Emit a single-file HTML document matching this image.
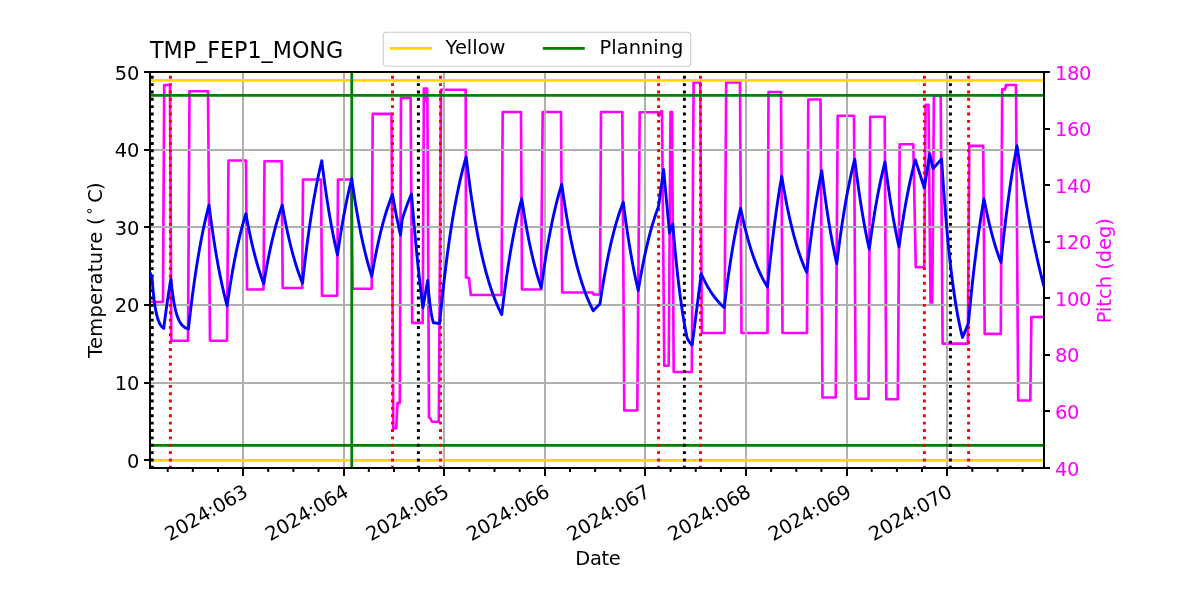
<!DOCTYPE html>
<html lang="en"><head><meta charset="utf-8"><title>TMP_FEP1_MONG</title>
<style>html,body{margin:0;padding:0;background:#fff;overflow:hidden}svg{display:block}text{font-family:"DejaVu Sans","Liberation Sans",sans-serif;font-size:19.44px;fill:#000}.m{fill:#ff00ff}</style></head><body>
<svg width="1200" height="600" viewBox="0 0 1200 600">
<rect x="0" y="0" width="1200" height="600" fill="#fff"/>
<defs><clipPath id="ax"><rect x="150" y="72" width="894" height="396"/></clipPath></defs>
<g clip-path="url(#ax)">
<path d="M150.00 302.00 L163.00 302.00 L164.20 85.00 L170.00 85.00 L171.30 340.75 L188.00 340.75 L189.50 91.25 L208.00 91.25 L210.00 340.75 L227.00 340.75 L228.50 160.50 L246.00 160.50 L247.00 289.50 L263.50 289.50 L264.50 161.25 L281.70 161.25 L282.70 288.00 L302.20 288.00 L303.00 179.50 L321.00 179.50 L322.00 295.75 L337.20 295.75 L338.00 179.50 L351.50 179.50 L352.50 288.75 L371.70 288.75 L372.70 113.90 L391.50 113.90 L393.30 428.30 L396.20 428.30 L397.50 402.80 L399.80 402.80 L401.00 97.90 L410.60 97.90 L412.20 322.90 L422.70 322.90 L423.90 88.50 L425.20 88.50 L425.50 101.00 L425.90 88.50 L427.00 88.50 L427.40 101.00 L429.00 417.50 L430.50 418.50 L432.00 421.70 L438.80 421.70 L441.00 89.70 L465.70 89.70 L466.00 277.50 L469.00 278.00 L470.80 295.00 L501.50 295.00 L502.70 112.00 L521.00 112.00 L522.00 289.50 L541.00 289.50 L542.70 112.00 L561.00 112.00 L562.20 292.50 L592.80 292.50 L593.50 294.50 L600.00 294.50 L601.00 112.00 L622.30 112.00 L624.30 410.50 L637.30 410.50 L639.70 112.20 L658.00 112.20 L659.00 116.00 L661.00 111.30 L662.00 111.30 L664.30 365.70 L668.70 365.70 L670.50 112.00 L672.00 112.00 L673.70 372.00 L691.80 372.00 L693.60 82.50 L700.20 82.50 L701.80 333.00 L724.50 333.00 L726.20 82.50 L740.00 82.50 L741.50 333.00 L767.50 333.00 L768.50 92.00 L781.00 92.00 L782.50 333.00 L807.00 333.00 L808.30 99.50 L820.50 99.50 L822.50 397.50 L835.70 397.50 L837.70 115.75 L854.00 115.75 L855.70 398.75 L868.50 398.75 L870.20 116.75 L884.70 116.75 L886.30 399.25 L897.80 399.25 L899.70 144.20 L913.30 144.20 L915.80 267.20 L924.20 267.20 L925.60 104.80 L928.50 104.80 L930.50 302.50 L932.30 302.50 L933.90 95.40 L940.70 95.40 L942.60 343.60 L967.80 343.60 L969.30 145.80 L983.20 145.80 L984.70 333.90 L1000.80 333.90 L1002.20 89.40 L1005.00 89.40 L1006.00 85.00 L1016.00 85.00 L1018.20 400.50 L1030.30 400.50 L1031.40 317.00 L1044.00 317.00" fill="none" stroke="#ff00ff" stroke-width="2.65" stroke-linejoin="round" stroke-linecap="butt"/>
</g>
<g stroke="#b0b0b0" stroke-width="2" clip-path="url(#ax)">
<line x1="243" y1="72" x2="243" y2="468"/>
<line x1="344" y1="72" x2="344" y2="468"/>
<line x1="444" y1="72" x2="444" y2="468"/>
<line x1="545" y1="72" x2="545" y2="468"/>
<line x1="645" y1="72" x2="645" y2="468"/>
<line x1="746" y1="72" x2="746" y2="468"/>
<line x1="847" y1="72" x2="847" y2="468"/>
<line x1="947" y1="72" x2="947" y2="468"/>
<line x1="150" y1="150" x2="1044" y2="150"/>
<line x1="150" y1="227" x2="1044" y2="227"/>
<line x1="150" y1="305" x2="1044" y2="305"/>
<line x1="150" y1="383" x2="1044" y2="383"/>
<line x1="150" y1="460" x2="1044" y2="460"/>
</g>
<g clip-path="url(#ax)" fill="none">
<line x1="150" y1="80.4" x2="1044" y2="80.4" stroke="#ffd700" stroke-width="2.78"/>
<line x1="150" y1="460.4" x2="1044" y2="460.4" stroke="#ffd700" stroke-width="2.78"/>
<line x1="150" y1="95.4" x2="1044" y2="95.4" stroke="#008000" stroke-width="2.78"/>
<line x1="150" y1="445.4" x2="1044" y2="445.4" stroke="#008000" stroke-width="2.78"/>
<line x1="351.75" y1="72" x2="351.75" y2="468" stroke="#008000" stroke-width="2.78"/>
<line x1="152.2" y1="468" x2="152.2" y2="72" stroke="#000" stroke-width="3" stroke-dasharray="2.9 4.46" stroke-dashoffset="0.75"/>
<line x1="418.4" y1="468" x2="418.4" y2="72" stroke="#000" stroke-width="3" stroke-dasharray="2.9 4.46" stroke-dashoffset="0.75"/>
<line x1="684.4" y1="468" x2="684.4" y2="72" stroke="#000" stroke-width="3" stroke-dasharray="2.9 4.46" stroke-dashoffset="0.75"/>
<line x1="950.4" y1="468" x2="950.4" y2="72" stroke="#000" stroke-width="3" stroke-dasharray="2.9 4.46" stroke-dashoffset="0.75"/>
<line x1="170.4" y1="468" x2="170.4" y2="72" stroke="#ff0000" stroke-width="3" stroke-dasharray="2.9 4.46" stroke-dashoffset="0.75"/>
<line x1="392.5" y1="468" x2="392.5" y2="72" stroke="#ff0000" stroke-width="3" stroke-dasharray="2.9 4.46" stroke-dashoffset="0.75"/>
<line x1="440.5" y1="468" x2="440.5" y2="72" stroke="#ff0000" stroke-width="3" stroke-dasharray="2.9 4.46" stroke-dashoffset="0.75"/>
<line x1="658.6" y1="468" x2="658.6" y2="72" stroke="#ff0000" stroke-width="3" stroke-dasharray="2.9 4.46" stroke-dashoffset="0.75"/>
<line x1="700.5" y1="468" x2="700.5" y2="72" stroke="#ff0000" stroke-width="3" stroke-dasharray="2.9 4.46" stroke-dashoffset="0.75"/>
<line x1="924.4" y1="468" x2="924.4" y2="72" stroke="#ff0000" stroke-width="3" stroke-dasharray="2.9 4.46" stroke-dashoffset="0.75"/>
<line x1="968.6" y1="468" x2="968.6" y2="72" stroke="#ff0000" stroke-width="3" stroke-dasharray="2.9 4.46" stroke-dashoffset="0.75"/>
</g>
<g stroke="#000" stroke-width="2">
<line x1="144" y1="72" x2="150" y2="72"/>
<line x1="144" y1="150" x2="150" y2="150"/>
<line x1="144" y1="227" x2="150" y2="227"/>
<line x1="144" y1="305" x2="150" y2="305"/>
<line x1="144" y1="383" x2="150" y2="383"/>
<line x1="144" y1="460" x2="150" y2="460"/>
<line x1="1044" y1="72.0" x2="1050" y2="72.0"/>
<line x1="1044" y1="129.0" x2="1050" y2="129.0"/>
<line x1="1044" y1="185.0" x2="1050" y2="185.0"/>
<line x1="1044" y1="242.0" x2="1050" y2="242.0"/>
<line x1="1044" y1="298.0" x2="1050" y2="298.0"/>
<line x1="1044" y1="355.0" x2="1050" y2="355.0"/>
<line x1="1044" y1="411.0" x2="1050" y2="411.0"/>
<line x1="1044" y1="468.0" x2="1050" y2="468.0"/>
<line x1="243" y1="468" x2="243" y2="476"/>
<line x1="344" y1="468" x2="344" y2="476"/>
<line x1="444" y1="468" x2="444" y2="476"/>
<line x1="545" y1="468" x2="545" y2="476"/>
<line x1="645" y1="468" x2="645" y2="476"/>
<line x1="746" y1="468" x2="746" y2="476"/>
<line x1="847" y1="468" x2="847" y2="476"/>
<line x1="947" y1="468" x2="947" y2="476"/>
<line x1="167.7" y1="468" x2="167.7" y2="471.9"/>
<line x1="192.8" y1="468" x2="192.8" y2="471.9"/>
<line x1="218.0" y1="468" x2="218.0" y2="471.9"/>
<line x1="268.2" y1="468" x2="268.2" y2="471.9"/>
<line x1="293.4" y1="468" x2="293.4" y2="471.9"/>
<line x1="318.5" y1="468" x2="318.5" y2="471.9"/>
<line x1="368.8" y1="468" x2="368.8" y2="471.9"/>
<line x1="394.0" y1="468" x2="394.0" y2="471.9"/>
<line x1="419.1" y1="468" x2="419.1" y2="471.9"/>
<line x1="469.4" y1="468" x2="469.4" y2="471.9"/>
<line x1="494.5" y1="468" x2="494.5" y2="471.9"/>
<line x1="519.7" y1="468" x2="519.7" y2="471.9"/>
<line x1="570.0" y1="468" x2="570.0" y2="471.9"/>
<line x1="595.1" y1="468" x2="595.1" y2="471.9"/>
<line x1="620.3" y1="468" x2="620.3" y2="471.9"/>
<line x1="670.6" y1="468" x2="670.6" y2="471.9"/>
<line x1="695.7" y1="468" x2="695.7" y2="471.9"/>
<line x1="720.9" y1="468" x2="720.9" y2="471.9"/>
<line x1="771.1" y1="468" x2="771.1" y2="471.9"/>
<line x1="796.3" y1="468" x2="796.3" y2="471.9"/>
<line x1="821.4" y1="468" x2="821.4" y2="471.9"/>
<line x1="871.7" y1="468" x2="871.7" y2="471.9"/>
<line x1="896.9" y1="468" x2="896.9" y2="471.9"/>
<line x1="922.0" y1="468" x2="922.0" y2="471.9"/>
<line x1="972.3" y1="468" x2="972.3" y2="471.9"/>
<line x1="997.5" y1="468" x2="997.5" y2="471.9"/>
<line x1="1022.6" y1="468" x2="1022.6" y2="471.9"/>
</g>
<rect x="150" y="72" width="894" height="396" fill="none" stroke="#000" stroke-width="2"/>
<path clip-path="url(#ax)" fill="none" d="M150.00 272.40 L151.00 275.20 L152.00 278.00 L153.06 290.46 L154.13 300.01 L155.19 307.33 L156.25 312.94 L157.32 317.24 L158.38 320.54 L159.45 323.07 L160.51 325.00 L161.57 326.49 L162.64 327.63 L163.70 328.50 L164.73 320.45 L165.76 312.75 L166.79 305.37 L167.81 298.31 L168.84 291.56 L169.87 285.09 L170.90 278.90 L171.93 288.51 L172.96 296.34 L173.99 302.70 L175.02 307.89 L176.05 312.11 L177.08 315.54 L178.11 318.33 L179.14 320.61 L180.16 322.46 L181.19 323.97 L182.22 325.19 L183.25 326.19 L184.28 327.01 L185.31 327.67 L186.34 328.21 L187.37 328.64 L188.40 329.00 L189.43 319.89 L190.46 311.17 L191.49 302.83 L192.52 294.84 L193.55 287.20 L194.58 279.88 L195.61 272.88 L196.64 266.18 L197.67 259.77 L198.70 253.63 L199.73 247.75 L200.76 242.13 L201.79 236.74 L202.82 231.59 L203.85 226.66 L204.88 221.94 L205.91 217.42 L206.94 213.10 L207.97 208.96 L209.00 205.00 L210.01 212.85 L211.01 220.38 L212.02 227.59 L213.02 234.49 L214.03 241.11 L215.03 247.45 L216.04 253.53 L217.04 259.35 L218.05 264.93 L219.06 270.27 L220.06 275.39 L221.07 280.30 L222.07 284.99 L223.08 289.50 L224.08 293.81 L225.09 297.95 L226.09 301.91 L227.10 305.70 L228.14 298.44 L229.19 291.50 L230.23 284.86 L231.28 278.50 L232.32 272.43 L233.37 266.62 L234.41 261.06 L235.46 255.74 L236.50 250.65 L237.54 245.78 L238.59 241.13 L239.63 236.68 L240.68 232.42 L241.72 228.35 L242.77 224.45 L243.81 220.72 L244.86 217.16 L245.90 213.75 L246.95 219.50 L248.00 225.00 L249.05 230.25 L250.10 235.28 L251.15 240.09 L252.20 244.68 L253.25 249.08 L254.30 253.28 L255.35 257.31 L256.40 261.15 L257.45 264.83 L258.50 268.34 L259.55 271.71 L260.60 274.92 L261.65 278.00 L262.70 280.94 L263.75 283.75 L264.78 277.57 L265.81 271.65 L266.83 265.98 L267.86 260.56 L268.89 255.36 L269.92 250.39 L270.94 245.64 L271.97 241.08 L273.00 236.72 L274.03 232.55 L275.06 228.56 L276.08 224.74 L277.11 221.08 L278.14 217.57 L279.17 214.22 L280.19 211.01 L281.22 207.94 L282.25 205.00 L283.26 210.71 L284.27 216.19 L285.29 221.43 L286.30 226.45 L287.31 231.26 L288.32 235.86 L289.34 240.28 L290.35 244.50 L291.36 248.55 L292.38 252.43 L293.39 256.14 L294.40 259.70 L295.41 263.10 L296.43 266.37 L297.44 269.49 L298.45 272.49 L299.46 275.35 L300.48 278.10 L301.49 280.73 L302.50 283.25 L303.51 274.01 L304.53 265.15 L305.54 256.67 L306.55 248.55 L307.57 240.77 L308.58 233.32 L309.59 226.18 L310.61 219.35 L311.62 212.80 L312.63 206.53 L313.64 200.52 L314.66 194.77 L315.67 189.26 L316.68 183.98 L317.70 178.93 L318.71 174.08 L319.72 169.45 L320.74 165.00 L321.75 160.75 L322.80 169.18 L323.85 177.25 L324.90 184.96 L325.95 192.33 L327.00 199.39 L328.05 206.13 L329.10 212.58 L330.15 218.75 L331.20 224.65 L332.25 230.29 L333.30 235.68 L334.35 240.84 L335.40 245.77 L336.45 250.49 L337.50 255.00 L338.52 247.89 L339.54 241.08 L340.55 234.57 L341.57 228.32 L342.59 222.35 L343.61 216.62 L344.62 211.14 L345.64 205.89 L346.66 200.86 L347.68 196.05 L348.70 191.44 L349.71 187.03 L350.73 182.80 L351.75 178.75 L352.75 185.84 L353.75 192.63 L354.75 199.14 L355.75 205.38 L356.75 211.36 L357.75 217.09 L358.75 222.58 L359.75 227.84 L360.75 232.89 L361.75 237.72 L362.75 242.35 L363.75 246.79 L364.75 251.04 L365.75 255.12 L366.75 259.03 L367.75 262.77 L368.75 266.36 L369.75 269.80 L370.75 273.09 L371.75 276.25 L372.79 270.21 L373.82 264.43 L374.86 258.90 L375.90 253.62 L376.94 248.55 L377.98 243.71 L379.01 239.08 L380.05 234.64 L381.09 230.40 L382.12 226.34 L383.16 222.46 L384.20 218.74 L385.24 215.19 L386.27 211.79 L387.31 208.53 L388.35 205.42 L389.39 202.44 L390.43 199.59 L391.46 196.86 L392.50 194.25 L393.50 200.13 L394.50 205.77 L395.50 211.18 L396.50 216.35 L397.50 221.32 L398.50 226.07 L399.50 230.63 L400.50 235.00 L401.35 227.25 L402.20 219.50 L403.23 216.14 L404.27 212.93 L405.30 209.86 L406.33 206.92 L407.37 204.10 L408.40 201.41 L409.43 198.83 L410.47 196.36 L411.50 194.00 L412.54 206.76 L413.57 218.97 L414.61 230.66 L415.65 241.84 L416.68 252.54 L417.72 262.77 L418.75 272.57 L419.79 281.94 L420.83 290.91 L421.86 299.49 L422.90 307.70 L424.10 300.87 L425.30 294.05 L426.50 287.22 L427.70 280.40 L428.82 294.11 L429.94 304.47 L431.06 312.31 L432.18 318.23 L433.30 322.70 L434.35 322.85 L435.40 323.00 L436.45 323.15 L437.50 323.30 L438.55 323.45 L439.60 323.60 L440.62 313.12 L441.65 303.08 L442.67 293.48 L443.69 284.28 L444.72 275.47 L445.74 267.04 L446.76 258.97 L447.78 251.25 L448.81 243.85 L449.83 236.76 L450.85 229.98 L451.88 223.49 L452.90 217.27 L453.92 211.32 L454.95 205.62 L455.97 200.17 L456.99 194.95 L458.02 189.95 L459.04 185.16 L460.06 180.58 L461.08 176.19 L462.11 171.99 L463.13 167.97 L464.15 164.12 L465.18 160.43 L466.20 156.90 L467.22 165.45 L468.23 173.64 L469.25 181.48 L470.26 188.99 L471.28 196.18 L472.29 203.07 L473.31 209.67 L474.33 215.99 L475.34 222.04 L476.36 227.83 L477.37 233.38 L478.39 238.70 L479.40 243.79 L480.42 248.66 L481.44 253.33 L482.45 257.80 L483.47 262.08 L484.48 266.19 L485.50 270.11 L486.51 273.87 L487.53 277.48 L488.55 280.93 L489.56 284.23 L490.58 287.39 L491.59 290.42 L492.61 293.33 L493.62 296.11 L494.64 298.77 L495.66 301.32 L496.67 303.76 L497.69 306.10 L498.70 308.34 L499.72 310.48 L500.73 312.53 L501.75 314.50 L502.75 306.08 L503.75 298.02 L504.75 290.29 L505.75 282.89 L506.75 275.79 L507.75 268.98 L508.75 262.47 L509.75 256.22 L510.75 250.23 L511.75 244.49 L512.75 239.00 L513.75 233.73 L514.75 228.68 L515.75 223.84 L516.75 219.20 L517.75 214.75 L518.75 210.49 L519.75 206.41 L520.75 202.50 L521.75 198.75 L522.78 205.51 L523.80 211.99 L524.83 218.19 L525.86 224.12 L526.88 229.80 L527.91 235.24 L528.93 240.44 L529.96 245.42 L530.99 250.19 L532.01 254.76 L533.04 259.13 L534.07 263.31 L535.09 267.32 L536.12 271.15 L537.14 274.82 L538.17 278.34 L539.20 281.70 L540.22 284.92 L541.25 288.00 L542.27 280.39 L543.30 273.11 L544.33 266.14 L545.35 259.46 L546.38 253.07 L547.40 246.95 L548.42 241.10 L549.45 235.49 L550.48 230.13 L551.50 224.99 L552.52 220.07 L553.55 215.36 L554.58 210.85 L555.60 206.54 L556.62 202.41 L557.65 198.45 L558.67 194.67 L559.70 191.04 L560.73 187.57 L561.75 184.25 L562.77 191.50 L563.78 198.45 L564.80 205.10 L565.81 211.46 L566.83 217.56 L567.85 223.41 L568.86 229.00 L569.88 234.36 L570.90 239.49 L571.91 244.40 L572.93 249.11 L573.94 253.61 L574.96 257.93 L575.98 262.06 L576.99 266.02 L578.01 269.81 L579.02 273.44 L580.04 276.92 L581.06 280.25 L582.07 283.44 L583.09 286.49 L584.10 289.41 L585.12 292.22 L586.14 294.90 L587.15 297.47 L588.17 299.93 L589.19 302.28 L590.20 304.54 L591.22 306.70 L592.23 308.77 L593.25 310.75 L594.38 309.58 L595.50 308.42 L596.62 307.25 L597.75 306.08 L598.88 304.92 L600.00 303.75 L601.01 296.93 L602.02 290.40 L603.03 284.14 L604.04 278.15 L605.05 272.40 L606.07 266.90 L607.08 261.64 L608.09 256.59 L609.10 251.76 L610.11 247.12 L611.12 242.69 L612.13 238.44 L613.14 234.37 L614.15 230.47 L615.16 226.74 L616.17 223.16 L617.18 219.73 L618.20 216.45 L619.21 213.31 L620.22 210.30 L621.23 207.41 L622.24 204.65 L623.25 202.00 L624.25 209.81 L625.25 217.30 L626.25 224.48 L627.25 231.36 L628.25 237.95 L629.25 244.27 L630.25 250.32 L631.25 256.12 L632.25 261.68 L633.25 267.01 L634.25 272.12 L635.25 277.01 L636.25 281.70 L637.25 286.19 L638.25 290.50 L639.26 284.37 L640.27 278.51 L641.29 272.89 L642.30 267.50 L643.31 262.35 L644.33 257.41 L645.34 252.68 L646.35 248.15 L647.36 243.81 L648.38 239.65 L649.39 235.67 L650.40 231.85 L651.41 228.20 L652.42 224.70 L653.44 221.35 L654.45 218.14 L655.46 215.07 L656.48 212.12 L657.49 209.30 L658.50 206.60 L659.52 199.18 L660.54 191.76 L661.56 184.34 L662.58 176.92 L663.60 169.50 L664.78 182.20 L665.96 194.90 L667.14 207.60 L668.32 220.30 L669.50 233.00 L670.60 229.92 L671.70 226.83 L672.80 223.75 L673.81 235.90 L674.83 247.26 L675.84 257.88 L676.86 267.80 L677.87 277.07 L678.89 285.74 L679.90 293.84 L680.91 301.41 L681.93 308.49 L682.94 315.10 L683.96 321.28 L684.97 327.06 L685.99 332.45 L687.00 337.50 L688.04 339.80 L689.08 341.57 L690.12 342.93 L691.16 343.99 L692.20 344.80 L693.21 336.90 L694.21 329.01 L695.22 321.11 L696.22 313.21 L697.23 305.32 L698.23 297.43 L699.24 289.53 L700.24 281.64 L701.25 273.75 L702.25 276.00 L703.25 278.16 L704.25 280.23 L705.25 282.21 L706.25 284.11 L707.25 285.93 L708.25 287.68 L709.25 289.35 L710.25 290.95 L711.25 292.49 L712.25 293.96 L713.25 295.37 L714.25 296.72 L715.25 298.02 L716.25 299.26 L717.25 300.45 L718.25 301.59 L719.25 302.68 L720.25 303.73 L721.25 304.73 L722.25 305.70 L723.25 306.62 L724.25 307.50 L725.27 299.06 L726.29 290.98 L727.32 283.25 L728.34 275.84 L729.36 268.75 L730.38 261.96 L731.40 255.46 L732.42 249.24 L733.45 243.28 L734.47 237.58 L735.49 232.12 L736.51 226.89 L737.53 221.88 L738.56 217.08 L739.58 212.49 L740.60 208.10 L741.63 213.09 L742.67 217.86 L743.70 222.42 L744.74 226.79 L745.77 230.97 L746.81 234.97 L747.84 238.80 L748.88 242.46 L749.91 245.97 L750.95 249.32 L751.98 252.53 L753.02 255.60 L754.05 258.54 L755.08 261.35 L756.12 264.05 L757.15 266.62 L758.19 269.09 L759.22 271.44 L760.26 273.70 L761.29 275.86 L762.33 277.93 L763.36 279.91 L764.40 281.80 L765.43 283.61 L766.47 285.34 L767.50 287.00 L768.52 276.68 L769.54 266.79 L770.55 257.32 L771.57 248.25 L772.59 239.57 L773.61 231.26 L774.62 223.29 L775.64 215.67 L776.66 208.37 L777.68 201.38 L778.70 194.68 L779.71 188.27 L780.73 182.13 L781.75 176.25 L782.75 182.37 L783.75 188.24 L784.75 193.86 L785.75 199.25 L786.75 204.42 L787.75 209.37 L788.75 214.11 L789.75 218.66 L790.75 223.01 L791.75 227.19 L792.75 231.19 L793.75 235.02 L794.75 238.70 L795.75 242.22 L796.75 245.59 L797.75 248.83 L798.75 251.93 L799.75 254.90 L800.75 257.75 L801.75 260.47 L802.75 263.09 L803.75 265.59 L804.75 267.99 L805.75 270.29 L806.75 272.50 L807.75 263.52 L808.75 254.91 L809.75 246.65 L810.75 238.75 L811.75 231.17 L812.75 223.91 L813.75 216.95 L814.75 210.28 L815.75 203.88 L816.75 197.76 L817.75 191.89 L818.75 186.26 L819.75 180.87 L820.75 175.70 L821.75 170.75 L822.75 178.96 L823.75 186.83 L824.75 194.37 L825.75 201.60 L826.75 208.53 L827.75 215.17 L828.75 221.53 L829.75 227.62 L830.75 233.47 L831.75 239.07 L832.75 244.43 L833.75 249.57 L834.75 254.50 L835.75 259.22 L836.75 263.75 L837.75 255.61 L838.75 247.82 L839.75 240.35 L840.75 233.18 L841.75 226.32 L842.75 219.75 L843.75 213.44 L844.75 207.40 L845.75 201.62 L846.75 196.07 L847.75 190.75 L848.75 185.66 L849.75 180.78 L850.75 176.10 L851.75 171.61 L852.75 167.31 L853.75 163.20 L854.75 159.25 L855.79 167.68 L856.82 175.74 L857.86 183.46 L858.89 190.84 L859.93 197.91 L860.96 204.67 L862.00 211.14 L863.04 217.33 L864.07 223.25 L865.11 228.92 L866.14 234.34 L867.18 239.53 L868.21 244.50 L869.25 249.25 L870.30 241.44 L871.35 233.98 L872.40 226.84 L873.45 220.01 L874.50 213.48 L875.55 207.24 L876.60 201.27 L877.65 195.56 L878.70 190.10 L879.75 184.88 L880.80 179.88 L881.85 175.11 L882.90 170.54 L883.95 166.18 L885.00 162.00 L886.00 169.89 L887.00 177.45 L888.00 184.70 L889.00 191.64 L890.00 198.29 L891.00 204.67 L892.00 210.78 L893.00 216.64 L894.00 222.25 L895.00 227.63 L896.00 232.79 L897.00 237.73 L898.00 242.46 L899.00 247.00 L900.02 239.60 L901.04 232.51 L902.06 225.72 L903.08 219.22 L904.09 212.99 L905.11 207.03 L906.13 201.32 L907.15 195.86 L908.17 190.62 L909.19 185.61 L910.21 180.81 L911.22 176.21 L912.24 171.81 L913.26 167.60 L914.28 163.56 L915.30 159.70 L916.30 162.85 L917.30 165.99 L918.30 169.14 L919.30 172.28 L920.30 175.43 L921.30 178.57 L922.30 181.71 L923.30 184.86 L924.30 188.00 L925.38 181.15 L926.46 174.30 L927.54 167.45 L928.62 160.60 L929.70 153.75 L930.80 158.75 L931.90 163.75 L933.00 168.75 L934.08 167.52 L935.15 166.29 L936.23 165.06 L937.30 163.82 L938.38 162.59 L939.45 161.36 L940.52 160.13 L941.60 158.90 L942.64 174.89 L943.69 189.80 L944.74 203.71 L945.78 216.68 L946.83 228.78 L947.87 240.07 L948.91 250.59 L949.96 260.41 L951.00 269.57 L952.05 278.11 L953.10 286.07 L954.14 293.50 L955.19 300.43 L956.23 306.90 L957.27 312.92 L958.32 318.55 L959.37 323.79 L960.41 328.68 L961.46 333.24 L962.50 337.50 L963.68 334.66 L964.86 331.82 L966.04 328.98 L967.22 326.14 L968.40 323.30 L969.44 312.19 L970.48 301.55 L971.52 291.38 L972.56 281.65 L973.60 272.34 L974.64 263.43 L975.68 254.91 L976.72 246.75 L977.76 238.95 L978.80 231.49 L979.84 224.35 L980.88 217.52 L981.92 210.98 L982.96 204.73 L984.00 198.75 L985.00 203.91 L986.00 208.85 L987.00 213.59 L988.00 218.13 L989.00 222.48 L990.00 226.65 L991.00 230.64 L992.00 234.47 L993.00 238.14 L994.00 241.66 L995.00 245.03 L996.00 248.26 L997.00 251.36 L998.00 254.32 L999.00 257.16 L1000.00 259.89 L1001.00 262.50 L1002.00 252.65 L1003.00 243.21 L1004.00 234.17 L1005.00 225.50 L1006.00 217.19 L1007.00 209.23 L1008.00 201.60 L1009.00 194.28 L1010.00 187.28 L1011.00 180.56 L1012.00 174.12 L1013.00 167.96 L1014.00 162.05 L1015.00 156.38 L1016.00 150.95 L1017.00 145.75 L1018.00 152.62 L1019.00 159.33 L1020.00 165.90 L1021.00 172.32 L1022.00 178.60 L1023.00 184.75 L1024.00 190.75 L1025.00 196.63 L1026.00 202.38 L1027.00 208.00 L1028.00 213.50 L1029.00 218.87 L1030.00 224.13 L1031.00 229.27 L1032.00 234.30 L1033.00 239.22 L1034.00 244.04 L1035.00 248.74 L1036.00 253.34 L1037.00 257.84 L1038.00 262.25 L1039.00 266.55 L1040.00 270.76 L1041.00 274.88 L1042.00 278.91 L1043.00 282.85 L1044.00 286.70" stroke="#0000ff" stroke-width="2.9" stroke-linejoin="round"/>
<text x="139.0" y="80.0" text-anchor="end" letter-spacing="-0.3">50</text>
<text x="139.0" y="157.0" text-anchor="end" letter-spacing="-0.3">40</text>
<text x="139.0" y="235.0" text-anchor="end" letter-spacing="-0.3">30</text>
<text x="139.0" y="312.0" text-anchor="end" letter-spacing="-0.3">20</text>
<text x="139.0" y="390.0" text-anchor="end" letter-spacing="-0.3">10</text>
<text x="139.0" y="468.0" text-anchor="end" letter-spacing="-0.3">0</text>
<text class="m" x="1054.9" y="80.0" letter-spacing="-0.3">180</text>
<text class="m" x="1054.9" y="136.0" letter-spacing="-0.3">160</text>
<text class="m" x="1054.9" y="193.0" letter-spacing="-0.3">140</text>
<text class="m" x="1054.9" y="249.0" letter-spacing="-0.3">120</text>
<text class="m" x="1054.9" y="306.0" letter-spacing="-0.3">100</text>
<text class="m" x="1054.9" y="362.0" letter-spacing="-0.3">80</text>
<text class="m" x="1054.9" y="419.0" letter-spacing="-0.3">60</text>
<text class="m" x="1054.9" y="476.0" letter-spacing="-0.3">40</text>
<text transform="translate(249.1,495.7) rotate(-30)" text-anchor="end" letter-spacing="-0.19">2024:063</text>
<text transform="translate(349.7,495.7) rotate(-30)" text-anchor="end" letter-spacing="-0.19">2024:064</text>
<text transform="translate(450.3,495.7) rotate(-30)" text-anchor="end" letter-spacing="-0.19">2024:065</text>
<text transform="translate(550.8,495.7) rotate(-30)" text-anchor="end" letter-spacing="-0.19">2024:066</text>
<text transform="translate(651.4,495.7) rotate(-30)" text-anchor="end" letter-spacing="-0.19">2024:067</text>
<text transform="translate(752.0,495.7) rotate(-30)" text-anchor="end" letter-spacing="-0.19">2024:068</text>
<text transform="translate(852.6,495.7) rotate(-30)" text-anchor="end" letter-spacing="-0.19">2024:069</text>
<text transform="translate(953.2,495.7) rotate(-30)" text-anchor="end" letter-spacing="-0.19">2024:070</text>
<text x="597.9" y="564.8" text-anchor="middle" letter-spacing="-0.3">Date</text>
<text transform="translate(101.7,357.9) rotate(-90)"><tspan letter-spacing="0.29">Temperature (</tspan><tspan font-size="14.5px" dy="-7.6" dx="1.8">∘</tspan><tspan dy="7.6" dx="3.5">C</tspan><tspan dx="-0.7">)</tspan></text>
<text class="m" transform="translate(1110.6,270.7) rotate(-90)" text-anchor="middle">Pitch (deg)</text>
<text x="150" y="57.7" style="font-size:22.22px">TMP_FEP1_MONG</text>
<rect x="383.3" y="32.3" width="307.4" height="34" rx="3.2" ry="3.2" fill="#fff" fill-opacity="0.8" stroke="#ccc" stroke-width="1.1"/>
<line x1="389.9" y1="48.3" x2="431.9" y2="48.3" stroke="#ffd700" stroke-width="2.78"/>
<text x="445.6" y="53.8">Yellow</text>
<line x1="542.8" y1="48.3" x2="584.8" y2="48.3" stroke="#008000" stroke-width="2.78"/>
<text x="599.6" y="53.8">Planning</text>
</svg></body></html>
